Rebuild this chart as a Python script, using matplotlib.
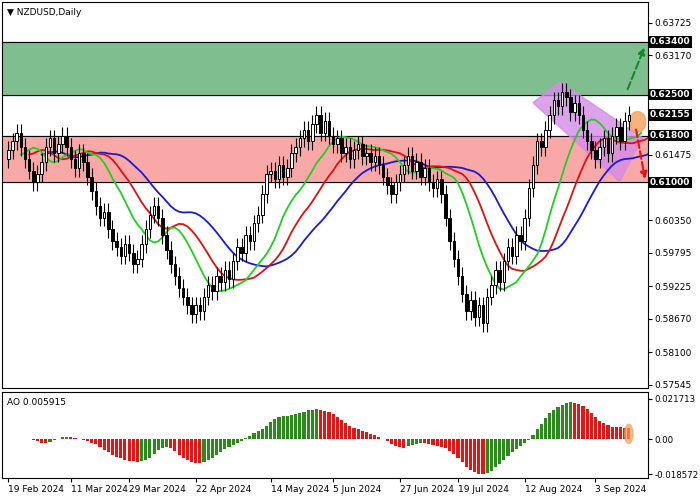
import matplotlib
matplotlib.use("Agg")
import matplotlib.pyplot as plt
import numpy as np
import pandas as pd
from matplotlib.patches import Polygon, Rectangle, Ellipse

closes = [0.6155,0.6170,0.6185,0.6160,0.6140,0.6120,0.6100,0.6115,0.6135,0.6160,0.6175,0.6150,0.6165,
 0.6180,0.6160,0.6140,0.6125,0.6150,0.6135,
 0.6110,0.6085,0.6060,0.6040,0.6050,0.6020,0.6000,0.5990,0.5975,0.5995,0.5980,0.5960,0.5970,
 0.5995,0.6020,0.6045,0.6060,0.6040,0.6010,
 0.5985,0.5960,0.5940,0.5920,0.5905,0.5890,
 0.5875,0.5890,0.5880,
 0.5905,0.5925,0.5915,0.5940,0.5930,0.5950,0.5935,
 0.5965,0.5990,0.5980,0.6010,0.6000,0.6030,0.6045,
 0.6080,0.6115,0.6120,0.6105,0.6130,0.6110,0.6125,0.6150,0.6160,0.6175,0.6190,0.6170,
 0.6200,0.6215,0.6185,0.6205,0.6180,
 0.6165,0.6175,0.6150,0.6160,0.6140,0.6155,0.6165,0.6145,0.6150,0.6135,0.6145,0.6130,
 0.6110,0.6095,0.6080,0.6100,0.6115,0.6130,0.6145,0.6120,0.6135,0.6110,0.6125,0.6100,0.6090,0.6105,0.6080,
 0.6040,0.6000,0.5970,0.5940,0.5910,0.5880,0.5900,
 0.5870,0.5890,0.5860,0.5905,0.5925,
 0.5950,0.5930,0.5965,0.5990,0.5975,0.6010,0.6000,
 0.6040,0.6090,0.6130,0.6170,0.6160,0.6190,0.6215,
 0.6240,0.6230,0.6255,0.6245,0.6220,0.6235,
 0.6215,0.6190,0.6170,0.6155,0.6140,0.6160,
 0.6175,0.6150,0.6180,0.6195,0.6170,0.6205,0.6215]
first_open = 0.6140
wick = 0.0015
date_pos = [0, 15, 29, 45, 63, 78, 94, 108, 124, 141]
date_labels = ["19 Feb 2024","11 Mar 2024","29 Mar 2024","22 Apr 2024","14 May 2024",
               "5 Jun 2024","27 Jun 2024","19 Jul 2024","12 Aug 2024","3 Sep 2024"]
price_ticks = [0.63725,0.63170,0.61475,0.60350,0.59795,0.59225,0.58670,0.58100,0.57545]
levels = [0.63400,0.62500,0.62155,0.61800,0.61000]
green_zone = (0.6250, 0.6340)
red_zone = (0.6100, 0.6180)
ao_ticks = [0.021713, 0.0, -0.018572]
ao_tick_labels = ["0.021713", "0.00", "-0.018572"]

c = np.array(closes)
o = np.concatenate([[first_open], c[:-1]])
h = np.maximum(o, c) + wick
l = np.minimum(o, c) - wick
n = len(c)
x = np.arange(n)

X0, X1 = -1.5, 153.5
W = 648.0
def px2d(px, py):
    return (X0 + px / W * (X1 - X0), 0.63725 - (py - 23) * 0.0001707)

fig = plt.figure(figsize=(7, 5), dpi=100)
ax = fig.add_axes([0.003, 0.224, 0.922, 0.772])
ax2 = fig.add_axes([0.003, 0.044, 0.922, 0.172])

ax.axhspan(*green_zone, color="#7fbf8f", zorder=0)
ax.axhspan(*red_zone, color="#f9a8a8", zorder=0)
for lv in [0.6250, 0.6340, 0.6100, 0.6180]:
    ax.axhline(lv, color="black", lw=0.8, zorder=1)

poly = [px2d(*p) for p in [(533, 103), (560, 82), (643, 138), (620, 182)]]
ax.add_patch(Polygon(poly, color="#d58be8", alpha=0.8, zorder=1))
cx, cy = px2d(638, 122)
ax.add_patch(Ellipse((cx, cy), 4, 0.0035, color="#f6a05a", alpha=0.8, zorder=1))

med = pd.Series((h + l) / 2)
def smma(s, p):
    return s.ewm(alpha=1 / p, adjust=False).mean()
for p, sh, col in [(13, 8, "#1a1ad6"), (8, 5, "#e01010"), (5, 3, "#20d020")]:
    vv = smma(med, p).values
    ax.plot(np.arange(sh, n + sh), vv, color=col, lw=1.3, zorder=2)

for i in range(n):
    ax.vlines(x[i], l[i], h[i], color="black", lw=0.8, zorder=3)
    bull = c[i] >= o[i]
    ax.add_patch(Rectangle((x[i] - 0.3, min(o[i], c[i])), 0.6, max(abs(c[i] - o[i]), 0.00008),
                           facecolor="white" if bull else "black", edgecolor="black", lw=0.7, zorder=4))

ax.annotate("", xy=px2d(646, 45), xytext=px2d(627, 92), annotation_clip=False,
            arrowprops=dict(arrowstyle="-|>", ls="--", color="#138a2a", lw=1.5), zorder=5)
ax.annotate("", xy=px2d(646, 182), xytext=px2d(636, 127), annotation_clip=False,
            arrowprops=dict(arrowstyle="-|>", ls="--", color="#ee1111", lw=1.5), zorder=5)

ax.set_xlim(X0, X1)
ax.set_ylim(0.5749, 0.6408)
ax.yaxis.tick_right()
ax.set_yticks(price_ticks)
ax.set_yticklabels([f"{t:.5f}" for t in price_ticks], fontsize=6.5)
ax.set_xticks([])
ax.tick_params(axis="y", length=3, pad=2)
for lv in levels:
    ax.text(1.004, lv, f"{lv:.5f}", transform=ax.get_yaxis_transform(), fontsize=6.5,
            color="white", fontweight="bold", va="center", ha="left",
            bbox=dict(facecolor="black", edgecolor="none", pad=1.0), clip_on=False, zorder=10)
ax.text(0.008, 0.985, "▼ NZDUSD,Daily", transform=ax.transAxes, fontsize=6.5, va="top")

ao = (med.rolling(5, min_periods=1).mean() - med.rolling(34, min_periods=1).mean()).values
cols = ["#2a8a1a" if i == 0 or ao[i] >= ao[i - 1] else "#ee1111" for i in range(n)]
ax2.bar(x, ao, width=0.75, color=cols)
ax2.add_patch(Ellipse((n - 1, ao[-1] / 2), 2, abs(ao[-1]) * 1.4 + 0.002, color="#f6a05a", alpha=0.7))
ax2.set_xlim(X0, X1)
ax2.set_ylim(-0.0207, 0.0254)
ax2.yaxis.tick_right()
ax2.set_yticks(ao_ticks)
ax2.set_yticklabels(ao_tick_labels, fontsize=6.2)
ax2.set_xticks(date_pos)
ax2.set_xticklabels(date_labels, fontsize=6.5, ha="left")
ax2.tick_params(axis="x", length=3, pad=2)
ax2.tick_params(axis="y", length=3, pad=2)
ax2.text(0.008, 0.93, f"AO {ao[-1]:.6f}", transform=ax2.transAxes, fontsize=6.5, va="top")

fig.savefig("out.png", dpi=100)
